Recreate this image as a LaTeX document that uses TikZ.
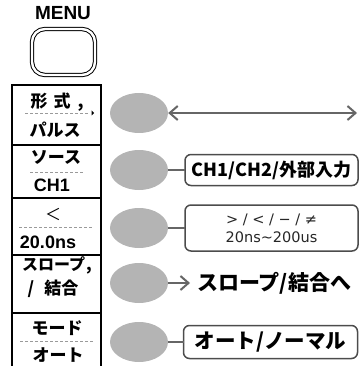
\documentclass[tikz,border=0pt]{standalone}
\usepackage{fontspec}
\setmainfont{Liberation Sans}
\newfontfamily\jpfont{Noto Sans CJK JP}
\newfontfamily\symfont{DejaVu Sans}
\usetikzlibrary{shapes.geometric, arrows.meta, positioning}
\definecolor{knobgray}{HTML}{B4B4B4}
\definecolor{linkgray}{HTML}{666666}
\definecolor{dashgray}{HTML}{9A9A9A}

\begin{document}
\begin{tikzpicture}[
    x=1pt, y=-1pt,
    node distance=0pt,
    menubox/.style={rectangle, draw, line width=1.6pt, minimum width=89pt, outer sep=0pt, anchor=north},
    btn/.style={draw, double=white, double distance=2.4pt, line width=1pt, rounded corners=13pt, minimum width=63pt, minimum height=46pt},
    jlab/.style={font=\jpfont\bfseries\fontsize{17}{17}\selectfont, inner sep=0pt},
    elab/.style={font=\bfseries\fontsize{18}{18}\selectfont, inner sep=0pt},
    knob/.style={ellipse, fill=knobgray, minimum width=58pt, minimum height=40pt, inner sep=0pt},
    choice/.style={rectangle, rounded corners=6pt, draw=black!70, line width=1.5pt, minimum width=173pt, inner sep=0pt, outer sep=0pt},
    link/.style={draw=linkgray, line width=2pt},
    arrow/.style={link, -{Straight Barb[length=8pt, width=14pt]}},
    dbl/.style={link, {Straight Barb[length=8pt, width=14pt]}-{Straight Barb[length=8pt, width=14pt]}},
    sep/.style={draw=dashgray, line width=0.8pt, dash pattern=on 3pt off 2pt}
]
\useasboundingbox (0,0) rectangle (359,366);

% menu key
\node[font=\bfseries\fontsize{19}{19}\selectfont, inner sep=0pt] (menu) at (63,13.5) {MENU};
\node[btn] (btn) at (63.5,52) {};

% soft keys
\node[menubox, minimum height=60pt] (m1) at (56.5,85) {};
\node[menubox, minimum height=53pt, below=of m1] (m2) {};
\node[menubox, minimum height=57pt, below=of m2] (m3) {};
\node[menubox, minimum height=58pt, below=of m3] (m4) {};
\node[menubox, minimum height=62pt, below=of m4] (m5) {};

\node[jlab] (k1) at (57,102) {形\hspace{6pt}式\hspace{7pt},};
\draw[sep] (25,113) -- (88,113);
\fill (91.5,110.5) -- (94,113) -- (91.5,115.5) -- cycle;
\node[jlab] (v1) at (55,130) {パルス};

\node[jlab] (k2) at (56,157) {ソース};
\draw[sep] (30,172) -- (83,172);
\node[elab] (v2) at (52,185) {CH1};

\node[font=\jpfont\fontsize{16}{16}\selectfont, inner sep=0pt] (k3) at (53,214) {＜};
\draw[sep] (19,227) -- (92,227);
\node[elab] (v3) at (48,242) {20.0ns};

\node[jlab, font=\jpfont\bfseries\fontsize{16}{16}\selectfont] (k4) at (57,265) {スロープ\hspace{1pt},};
\node[jlab] (v4) at (53,289) {/\hspace{10pt}結合};

\node[jlab] (k5) at (57,328) {モード};
\draw[sep] (20,341) -- (93,341);
\node[jlab] (v5) at (58,355) {オート};

% knobs
\node[knob] (b1) at (139,113) {};
\node[knob] (b2) at (139,170) {};
\node[knob] (b3) at (139,228) {};
\node[knob] (b4) at (139,283) {};
\node[knob] (b5) at (139,342) {};

% choices
\coordinate (e1) at (357,113);
\draw[dbl] (b1) -- (e1);

\node[choice, minimum height=31pt, font=\jpfont\bfseries\fontsize{18}{18}\selectfont] (r2) at (271.5,170) {CH1/CH2/外部入力};
\draw[link] (b2) -- (r2);

\node[choice, minimum height=46pt, align=center, text=black!85, font=\symfont\fontsize{14.5}{18}\selectfont] (r3) at (271.5,228) {> / < / − / ≠\\20ns\textasciitilde200us};
\draw[link] (b3) -- (r3);

\node[font=\jpfont\bfseries\fontsize{21}{21}\selectfont, inner xsep=7pt, inner ysep=0pt, anchor=west] (r4) at (190,283) {スロープ/結合へ};
\draw[arrow] (b4) -- (r4);

\node[choice, minimum width=174pt, minimum height=33pt, font=\jpfont\bfseries\fontsize{20.5}{20.5}\selectfont] (r5) at (270.5,342) {オート/ノーマル};
\draw[link] (b5) -- (r5);
\end{tikzpicture}
\end{document}
